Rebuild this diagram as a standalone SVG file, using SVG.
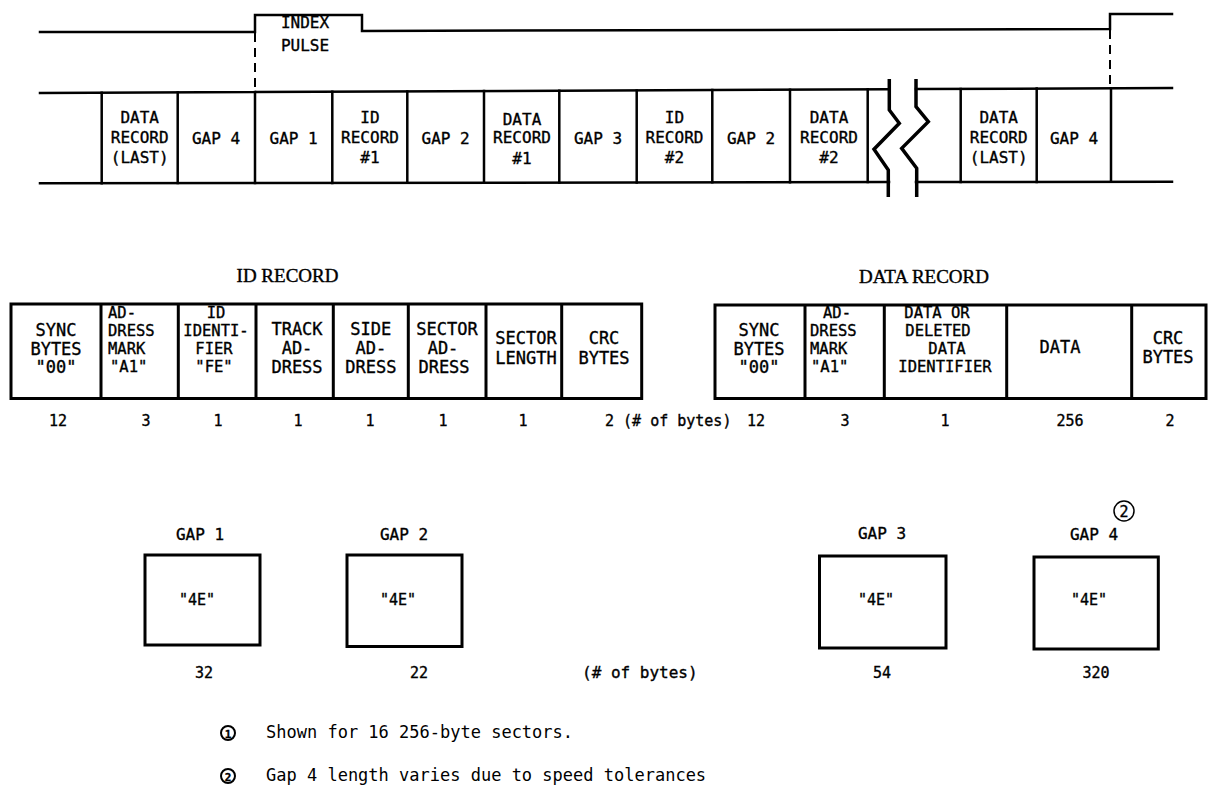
<svg xmlns="http://www.w3.org/2000/svg" width="1209" height="787" viewBox="0 0 1209 787">
<style>
.ln{stroke:#000;stroke-width:2.5;fill:none;stroke-linecap:square}
.dl{stroke:#000;stroke-width:2;fill:none;stroke-dasharray:9 6}
.bx{stroke:#000;stroke-width:3;fill:none}
.zz{stroke:#000;stroke-width:3.5;fill:none;stroke-linejoin:miter}
.t{font-family:"DejaVu Sans Mono",monospace;font-size:16px;text-anchor:middle;fill:#000;stroke:#000;stroke-width:0.35}
.b{font-size:17px}
.c{font-size:15.5px}
.n{font-size:15px}
.l{text-anchor:start}
.ttl{font-family:"Liberation Serif",serif;font-size:19px;text-anchor:middle;fill:#000;stroke:#000;stroke-width:0.4}
.fn{font-family:"DejaVu Sans Mono",monospace;font-size:17px;fill:#000}
.cc{stroke:#000;stroke-width:2;fill:none}
</style>
<rect width="1209" height="787" fill="#fff"/>
<g id="connectors">
  <path class="ln" d="M40,32 H255 V15 H362 V31 L1110,29 V14 H1172"/>
  <line class="dl" x1="255" y1="33" x2="255" y2="92"/>
  <line class="dl" x1="1110" y1="30" x2="1110" y2="88"/>
  <path class="ln" d="M40,93 L889,89.3 M916,89.1 L1172,88"/>
  <path class="ln" d="M40,183.3 L889,182.1 M916,182.1 L1172,181.7"/>
  <path class="ln" d="M101.7,92.7 V183.2 M177.7,92.4 V183.1 M255,92 V183 M332.3,91.7 V182.9 M407.3,91.4 V182.8 M484,91 V182.7 M559.3,90.7 V182.6 M636.7,90.4 V182.5 M712.3,90 V182.3 M790,89.7 V182.2 M867.7,89.3 V182.1 M960.7,88.9 V182 M1036.7,88.6 V181.9 M1111,88.3 V181.8"/>
  <path class="zz" d="M889.3,79 V110 L899.3,123.3 L874,149.3 L888.3,170 V197"/>
  <path class="zz" d="M916,79 V106.7 L928.3,121.7 L901.7,148.3 L916.7,168.3 V197"/>
</g>
<g id="index-pulse">
  <text class="t" x="305" y="28">INDEX</text>
  <text class="t" x="305" y="51">PULSE</text>
</g>
<g id="trk-data-last-1">
  <text class="t" x="139.7" y="123">DATA</text>
  <text class="t" x="139.7" y="143">RECORD</text>
  <text class="t" x="139.7" y="163">(LAST)</text>
</g>
<g id="trk-gap4-1"><text class="t" x="216" y="144">GAP 4</text></g>
<g id="trk-gap1"><text class="t" x="293.6" y="144">GAP 1</text></g>
<g id="trk-id1">
  <text class="t" x="370" y="123">ID</text>
  <text class="t" x="370" y="143">RECORD</text>
  <text class="t" x="370" y="163">#1</text>
</g>
<g id="trk-gap2-1"><text class="t" x="445.6" y="144">GAP 2</text></g>
<g id="trk-data1">
  <text class="t" x="522" y="125">DATA</text>
  <text class="t" x="522" y="143">RECORD</text>
  <text class="t" x="522" y="164">#1</text>
</g>
<g id="trk-gap3"><text class="t" x="598" y="144">GAP 3</text></g>
<g id="trk-id2">
  <text class="t" x="674.5" y="123">ID</text>
  <text class="t" x="674.5" y="143">RECORD</text>
  <text class="t" x="674.5" y="163">#2</text>
</g>
<g id="trk-gap2-2"><text class="t" x="751" y="144">GAP 2</text></g>
<g id="trk-data2">
  <text class="t" x="829" y="123">DATA</text>
  <text class="t" x="829" y="143">RECORD</text>
  <text class="t" x="829" y="163">#2</text>
</g>
<g id="trk-data-last-2">
  <text class="t" x="998.7" y="123">DATA</text>
  <text class="t" x="998.7" y="143">RECORD</text>
  <text class="t" x="998.7" y="163">(LAST)</text>
</g>
<g id="trk-gap4-2"><text class="t" x="1074" y="144">GAP 4</text></g>

<g id="id-record">
  <text class="ttl" x="287.5" y="282">ID  RECORD</text>
  <rect class="bx" x="11" y="304" width="630.7" height="94.5"/>
  <path class="bx" d="M101,304 V398.5 M178.3,304 V398.5 M256,304 V398.5 M333.3,304 V398.5 M408.3,304 V398.5 M486,304 V398.5 M561.7,304 V398.5"/>
</g>
<g id="id-sync">
  <text class="t b" x="56" y="336">SYNC</text>
  <text class="t b" x="56" y="354.5">BYTES</text>
  <text class="t b" x="56" y="373">"00"</text>
  <text class="t n" x="58" y="426">12</text>
</g>
<g id="id-mark">
  <text class="t c l" x="108" y="318">AD-</text>
  <text class="t c l" x="108" y="336">DRESS</text>
  <text class="t c l" x="108" y="354">MARK</text>
  <text class="t c l" x="110" y="372">"A1"</text>
  <text class="t n" x="146" y="426">3</text>
</g>
<g id="id-identifier">
  <text class="t c" x="216" y="318">ID</text>
  <text class="t c" x="216" y="336">IDENTI-</text>
  <text class="t c" x="214" y="354">FIER</text>
  <text class="t c" x="214" y="372">"FE"</text>
  <text class="t n" x="218" y="426">1</text>
</g>
<g id="id-track">
  <text class="t b" x="297" y="335">TRACK</text>
  <text class="t b" x="297" y="354">AD-</text>
  <text class="t b" x="297" y="373">DRESS</text>
  <text class="t n" x="298" y="426">1</text>
</g>
<g id="id-side">
  <text class="t b" x="370.8" y="335">SIDE</text>
  <text class="t b" x="370.8" y="354">AD-</text>
  <text class="t b" x="370.8" y="373">DRESS</text>
  <text class="t n" x="370" y="426">1</text>
</g>
<g id="id-sector">
  <text class="t b" x="447" y="335">SECTOR</text>
  <text class="t b" x="443" y="354">AD-</text>
  <text class="t b" x="444" y="373">DRESS</text>
  <text class="t n" x="443" y="426">1</text>
</g>
<g id="id-length">
  <text class="t b" x="526" y="344">SECTOR</text>
  <text class="t b" x="526" y="364">LENGTH</text>
  <text class="t n" x="523" y="426">1</text>
</g>
<g id="id-crc">
  <text class="t b" x="604" y="344">CRC</text>
  <text class="t b" x="604" y="364">BYTES</text>
  <text class="t n l" x="605" y="426">2 (# of bytes)</text>
</g>

<g id="data-record">
  <text class="ttl" x="924" y="283">DATA  RECORD</text>
  <rect class="bx" x="715" y="305" width="491" height="93.5"/>
  <path class="bx" d="M805,305 V398.5 M884.3,305 V398.5 M1006.7,305 V398.5 M1131.7,305 V398.5"/>
</g>
<g id="dr-sync">
  <text class="t b" x="759" y="336">SYNC</text>
  <text class="t b" x="759" y="354.5">BYTES</text>
  <text class="t b" x="759" y="373">"00"</text>
  <text class="t n" x="756" y="426">12</text>
</g>
<g id="dr-mark">
  <text class="t c" x="837" y="318">AD-</text>
  <text class="t c l" x="810" y="336">DRESS</text>
  <text class="t c l" x="810" y="354">MARK</text>
  <text class="t c l" x="811" y="372">"A1"</text>
  <text class="t n" x="845" y="426">3</text>
</g>
<g id="dr-identifier">
  <text class="t c" x="937" y="318">DATA OR</text>
  <text class="t c" x="938" y="336">DELETED</text>
  <text class="t c" x="947" y="354">DATA</text>
  <text class="t c" x="945" y="372">IDENTIFIER</text>
  <text class="t n" x="945" y="426">1</text>
</g>
<g id="dr-data">
  <text class="t b" x="1060" y="353">DATA</text>
  <text class="t n" x="1070" y="426">256</text>
</g>
<g id="dr-crc">
  <text class="t b" x="1168" y="344">CRC</text>
  <text class="t b" x="1168" y="363">BYTES</text>
  <text class="t n" x="1170" y="426">2</text>
</g>

<g id="gap1">
  <text class="t" x="200" y="540">GAP 1</text>
  <rect class="bx" x="145" y="555" width="115" height="90"/>
  <text class="t n" x="197" y="605">"4E"</text>
  <text class="t n" x="204" y="678">32</text>
</g>
<g id="gap2">
  <text class="t" x="404" y="540">GAP 2</text>
  <rect class="bx" x="347" y="555" width="115" height="91.5"/>
  <text class="t n" x="398" y="605">"4E"</text>
  <text class="t n" x="419" y="678">22</text>
</g>
<g id="bytes-note"><text class="t l" x="582" y="678">(# of bytes)</text></g>
<g id="gap3">
  <text class="t" x="882" y="539">GAP 3</text>
  <rect class="bx" x="819.5" y="556" width="126.5" height="92"/>
  <text class="t n" x="876" y="605">"4E"</text>
  <text class="t n" x="882" y="678">54</text>
</g>
<g id="gap4">
  <text class="t" x="1094" y="540">GAP 4</text>
  <circle cx="1124" cy="511" r="10" stroke="#000" stroke-width="1.5" fill="none"/>
  <text class="t n" x="1124" y="516.5">2</text>
  <rect class="bx" x="1034" y="557" width="124.3" height="92"/>
  <text class="t n" x="1089" y="605">"4E"</text>
  <text class="t n" x="1096" y="678">320</text>
</g>

<g id="note1">
  <circle class="cc" cx="228" cy="733" r="7"/>
  <text class="t" x="228" y="737.5" style="font-size:11px;font-weight:bold">1</text>
  <text class="fn" x="266" y="738">Shown for 16 256-byte sectors.</text>
</g>
<g id="note2">
  <circle class="cc" cx="228" cy="776" r="7"/>
  <text class="t" x="228" y="780.5" style="font-size:11px;font-weight:bold">2</text>
  <text class="fn" x="266" y="781">Gap 4 length varies due to speed tolerances</text>
</g>
</svg>
